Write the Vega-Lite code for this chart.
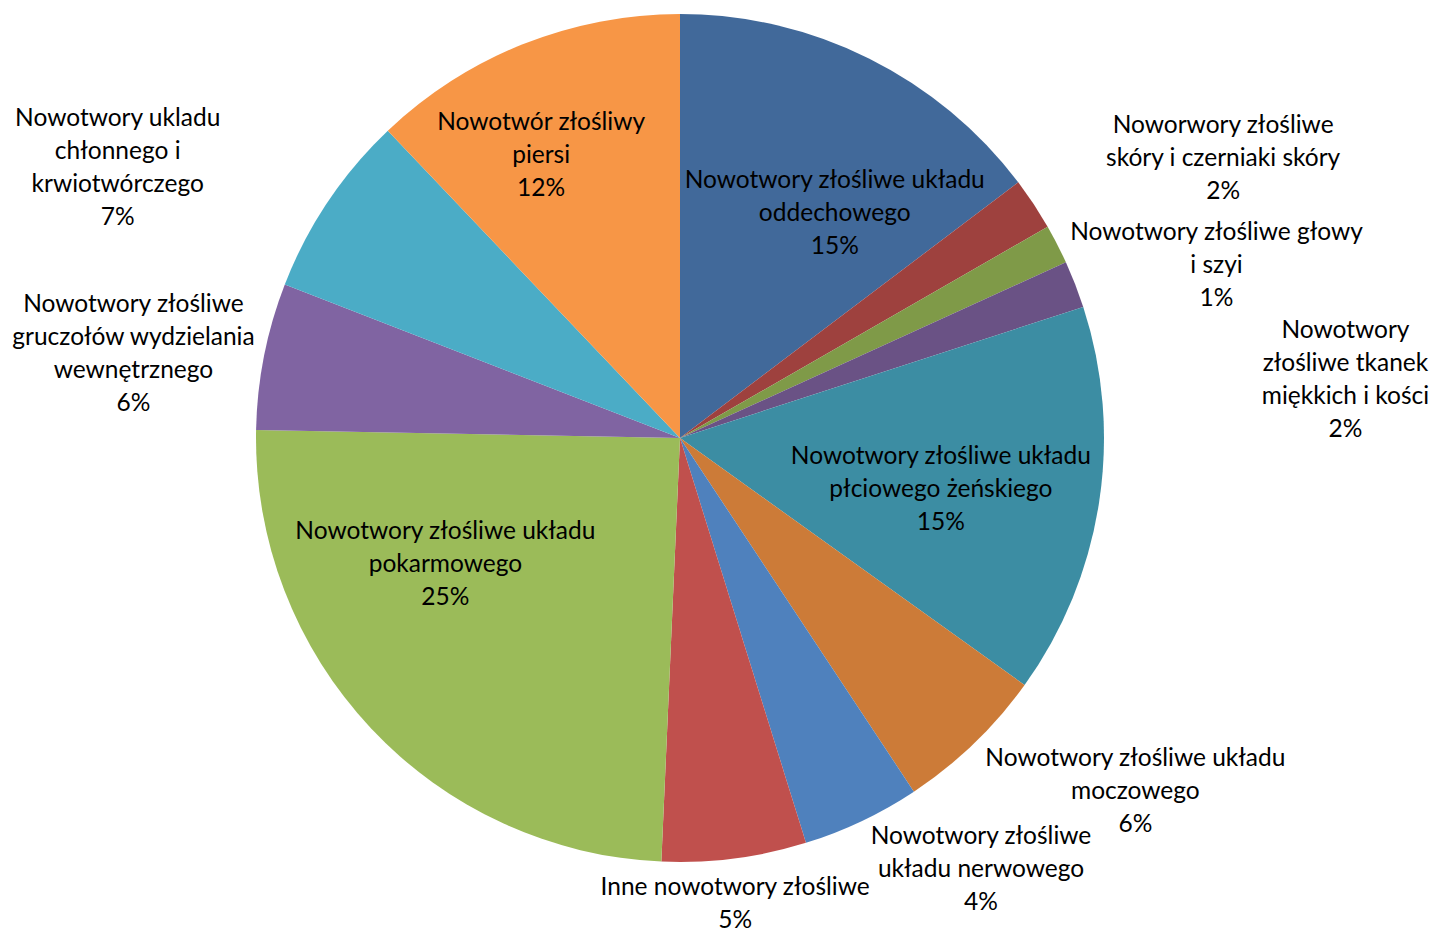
{
  "$schema": "https://vega.github.io/schema/vega-lite/v6.json",
  "width": 1360,
  "height": 876,
  "autosize": {"type": "none"},
  "padding": {"left": 0, "top": 0, "right": 73, "bottom": 52},
  "background": "#ffffff",
  "config": {
    "view": {"stroke": null},
    "text": {"font": "Lato", "fontSize": 24.5, "lineHeight": 33, "align": "center", "baseline": "middle", "lineBreak": "\n", "fill": "#000000"}
  },
  "data": {
    "values": [
      {"order": 1, "cat": "Nowotwory złośliwe układu oddechowego", "value": 14.7, "label": "Nowotwory złośliwe układu\noddechowego\n15%"},
      {"order": 2, "cat": "Noworwory złośliwe skóry i czerniaki skóry", "value": 2.0, "label": "Noworwory złośliwe\nskóry i czerniaki skóry\n2%"},
      {"order": 3, "cat": "Nowotwory złośliwe głowy i szyi", "value": 1.5, "label": "Nowotwory złośliwe głowy\ni szyi\n1%"},
      {"order": 4, "cat": "Nowotwory złośliwe tkanek miękkich i kości", "value": 1.8, "label": "Nowotwory\nzłośliwe tkanek\nmiękkich i kości\n2%"},
      {"order": 5, "cat": "Nowotwory złośliwe układu płciowego żeńskiego", "value": 14.9, "label": "Nowotwory złośliwe układu\npłciowego żeńskiego\n15%"},
      {"order": 6, "cat": "Nowotwory złośliwe układu moczowego", "value": 5.8, "label": "Nowotwory złośliwe układu\nmoczowego\n6%"},
      {"order": 7, "cat": "Nowotwory złośliwe układu nerwowego", "value": 4.5, "label": "Nowotwory złośliwe\nukładu nerwowego\n4%"},
      {"order": 8, "cat": "Inne nowotwory złośliwe", "value": 5.5, "label": "Inne nowotwory złośliwe\n5%"},
      {"order": 9, "cat": "Nowotwory złośliwe układu pokarmowego", "value": 24.6, "label": "Nowotwory złośliwe układu\npokarmowego\n25%"},
      {"order": 10, "cat": "Nowotwory złośliwe gruczołów wydzielania wewnętrznego", "value": 5.6, "label": "Nowotwory złośliwe\ngruczołów wydzielania\nwewnętrznego\n6%"},
      {"order": 11, "cat": "Nowotwory układu chłonnego i krwiotwórczego", "value": 7.0, "label": "Nowotwory ukladu\nchłonnego i\nkrwiotwórczego\n7%"},
      {"order": 12, "cat": "Nowotwór złośliwy piersi", "value": 12.1, "label": "Nowotwór złośliwy\npiersi\n12%"}
    ]
  },
  "encoding": {
    "theta": {"field": "value", "type": "quantitative", "stack": true},
    "order": {"field": "order", "type": "quantitative"}
  },
  "layer": [
    {
      "mark": {"type": "arc", "outerRadius": 424},
      "encoding": {
        "color": {
          "field": "cat",
          "type": "nominal",
          "legend": null,
          "scale": {
            "domain": [
              "Nowotwory złośliwe układu oddechowego",
              "Noworwory złośliwe skóry i czerniaki skóry",
              "Nowotwory złośliwe głowy i szyi",
              "Nowotwory złośliwe tkanek miękkich i kości",
              "Nowotwory złośliwe układu płciowego żeńskiego",
              "Nowotwory złośliwe układu moczowego",
              "Nowotwory złośliwe układu nerwowego",
              "Inne nowotwory złośliwe",
              "Nowotwory złośliwe układu pokarmowego",
              "Nowotwory złośliwe gruczołów wydzielania wewnętrznego",
              "Nowotwory układu chłonnego i krwiotwórczego",
              "Nowotwór złośliwy piersi"
            ],
            "range": ["#41699A", "#9E413E", "#7F9A48", "#6A5285", "#3C8DA3", "#CC7B38", "#4F81BD", "#C0504D", "#9BBB59", "#8064A2", "#4BACC6", "#F79646"]
          }
        }
      }
    },
    {"mark": {"type": "text", "radius": 271, "dx": 34, "dy": -14}, "encoding": {"text": {"condition": {"test": "datum.order === 1", "field": "label"}, "value": ""}}},
    {"mark": {"type": "text", "radius": 608, "dx": 36, "dy": 23}, "encoding": {"text": {"condition": {"test": "datum.order === 2", "field": "label"}, "value": ""}}},
    {"mark": {"type": "text", "radius": 557, "dx": 41, "dy": 49}, "encoding": {"text": {"condition": {"test": "datum.order === 3", "field": "label"}, "value": ""}}},
    {"mark": {"type": "text", "radius": 641, "dx": 68, "dy": 125}, "encoding": {"text": {"condition": {"test": "datum.order === 4", "field": "label"}, "value": ""}}},
    {"mark": {"type": "text", "radius": 265, "dx": -1, "dy": -22}, "encoding": {"text": {"condition": {"test": "datum.order === 5", "field": "label"}, "value": ""}}},
    {"mark": {"type": "text", "radius": 570, "dx": 60, "dy": -90}, "encoding": {"text": {"condition": {"test": "datum.order === 6", "field": "label"}, "value": ""}}},
    {"mark": {"type": "text", "radius": 518, "dx": 79, "dy": -69}, "encoding": {"text": {"condition": {"test": "datum.order === 7", "field": "label"}, "value": ""}}},
    {"mark": {"type": "text", "radius": 468, "dx": -5, "dy": -14}, "encoding": {"text": {"condition": {"test": "datum.order === 8", "field": "label"}, "value": ""}}},
    {"mark": {"type": "text", "radius": 256, "dx": -48, "dy": -81}, "encoding": {"text": {"condition": {"test": "datum.order === 9", "field": "label"}, "value": ""}}},
    {"mark": {"type": "text", "radius": 553, "dx": -4, "dy": -26}, "encoding": {"text": {"condition": {"test": "datum.order === 10", "field": "label"}, "value": ""}}},
    {"mark": {"type": "text", "radius": 618, "dx": -49, "dy": 25}, "encoding": {"text": {"condition": {"test": "datum.order === 11", "field": "label"}, "value": ""}}},
    {"mark": {"type": "text", "radius": 315, "dx": -22, "dy": -22}, "encoding": {"text": {"condition": {"test": "datum.order === 12", "field": "label"}, "value": ""}}}
  ]
}
